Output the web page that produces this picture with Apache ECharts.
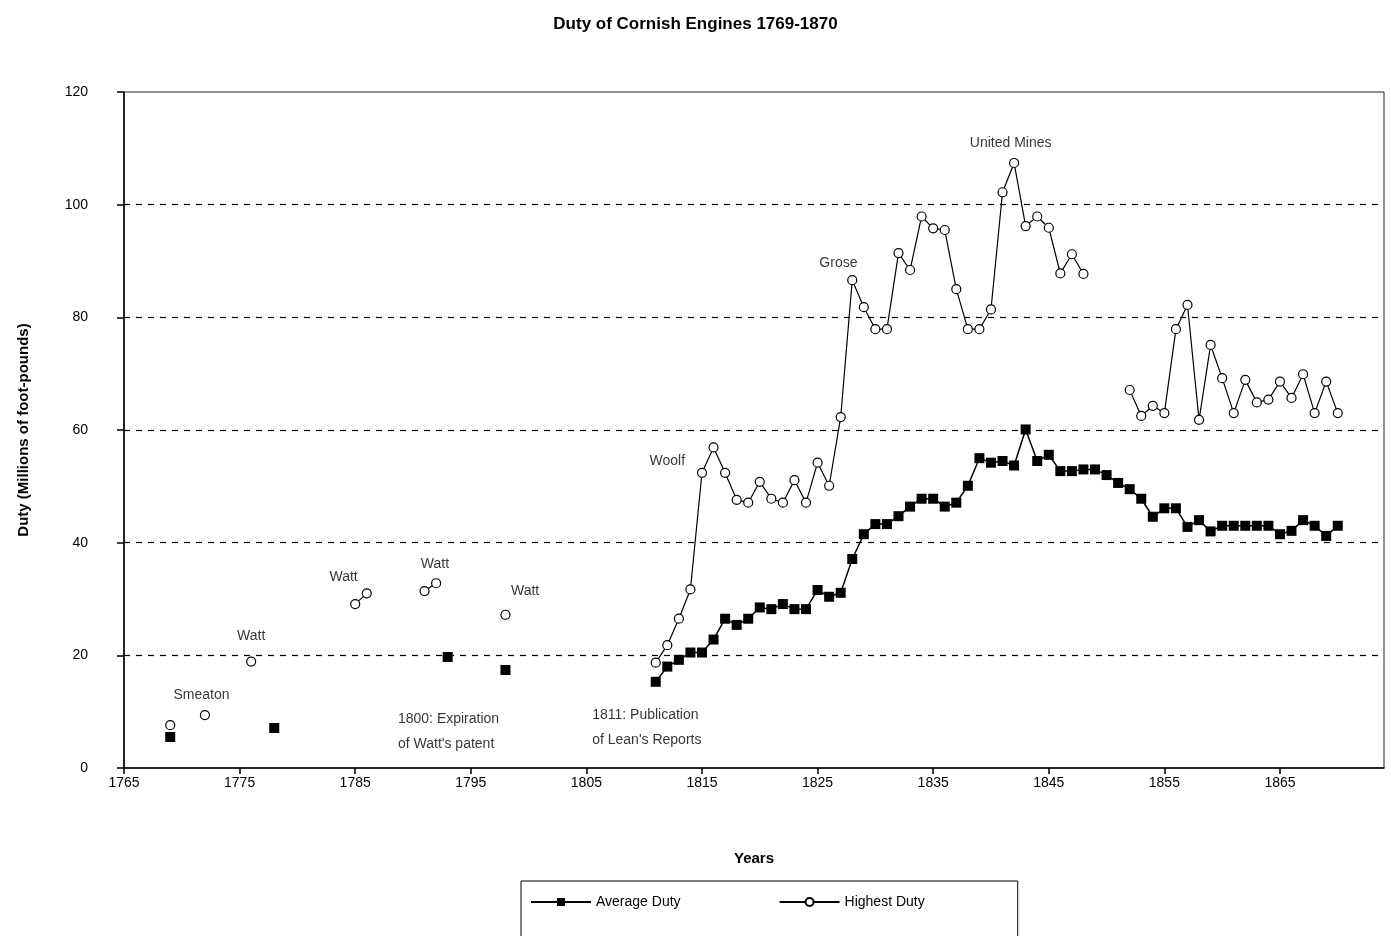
<!DOCTYPE html>
<html>
<head>
<meta charset="utf-8">
<script src="https://cdn.jsdelivr.net/npm/echarts@6/dist/echarts.min.js"></script>
<style>
  html, body { margin: 0; padding: 0; background: #fff; }
  #chart { width: 1391px; height: 936px; }
</style>
</head>
<body>
<div id="chart"></div>
<script>
// ---- Data ----
const avgYears = [1769, 1778, 1793, 1798,
  1811, 1812, 1813, 1814, 1815, 1816, 1817, 1818, 1819, 1820,
  1821, 1822, 1823, 1824, 1825, 1826, 1827, 1828, 1829, 1830,
  1831, 1832, 1833, 1834, 1835, 1836, 1837, 1838, 1839, 1840,
  1841, 1842, 1843, 1844, 1845, 1846, 1847, 1848, 1849, 1850,
  1851, 1852, 1853, 1854, 1855, 1856, 1857, 1858, 1859, 1860,
  1861, 1862, 1863, 1864, 1865, 1866, 1867, 1868, 1869, 1870];
const avgValues = [5.5, 7.1, 19.7, 17.4,
  15.3, 18.0, 19.2, 20.5, 20.5, 22.8, 26.5, 25.4, 26.5, 28.5,
  28.2, 29.1, 28.2, 28.2, 31.6, 30.4, 31.1, 37.1, 41.5, 43.3,
  43.3, 44.7, 46.4, 47.8, 47.8, 46.4, 47.1, 50.1, 55.0, 54.2,
  54.5, 53.7, 60.1, 54.5, 55.6, 52.7, 52.7, 53.0, 53.0, 52.0,
  50.6, 49.5, 47.8, 44.6, 46.1, 46.1, 42.8, 44.0, 42.0, 43.0,
  43.0, 43.0, 43.0, 43.0, 41.5, 42.1, 44.0, 43.0, 41.2, 43.0];

const highYears = [1769, 1772, 1776, 1785, 1786, 1791, 1792, 1798,
  1811, 1812, 1813, 1814, 1815, 1816, 1817, 1818, 1819, 1820,
  1821, 1822, 1823, 1824, 1825, 1826, 1827, 1828, 1829, 1830,
  1831, 1832, 1833, 1834, 1835, 1836, 1837, 1838, 1839, 1840,
  1841, 1842, 1843, 1844, 1845, 1846, 1847, 1848,
  1852, 1853, 1854, 1855, 1856, 1857, 1858, 1859, 1860,
  1861, 1862, 1863, 1864, 1865, 1866, 1867, 1868, 1869, 1870];
const highValues = [7.6, 9.4, 18.9, 29.1, 31.0, 31.4, 32.8, 27.2,
  18.7, 21.8, 26.5, 31.7, 52.4, 56.9, 52.4, 47.6, 47.1, 50.8,
  47.8, 47.1, 51.1, 47.1, 54.2, 50.1, 62.3, 86.6, 81.8, 77.9,
  77.9, 91.4, 88.4, 97.9, 95.8, 95.5, 85.0, 77.9, 77.9, 81.4,
  102.2, 107.4, 96.2, 97.9, 95.9, 87.8, 91.2, 87.7,
  67.1, 62.5, 64.3, 63.0, 77.9, 82.2, 61.8, 75.1, 69.2,
  63.0, 68.9, 64.9, 65.4, 68.6, 65.7, 69.9, 63.0, 68.6, 63.0];

const yTicks = [0, 20, 40, 60, 80, 100, 120];
const xTickStart = 1765;

// Text annotations: [year, duty, text, align]
const annotations = [
  [1771.7, 13.0, 'Smeaton', 'center'],
  [1776.0, 23.4, 'Watt', 'center'],
  [1784.0, 33.9, 'Watt', 'center'],
  [1791.9, 36.2, 'Watt', 'center'],
  [1799.7, 31.4, 'Watt', 'center'],
  [1788.7, 6.4, "1800: Expiration\nof Watt's patent", 'left'],
  [1805.5, 7.1, "1811: Publication\nof Lean's Reports", 'left'],
  [1812.0, 54.5, 'Woolf', 'center'],
  [1826.8, 89.6, 'Grose', 'center'],
  [1841.7, 111.0, 'United Mines', 'center']
];

// Build line data: points connect only in consecutive years
function buildSeries(years, values) {
  const out = [];
  for (let i = 0; i < years.length; i++) {
    if (i > 0 && years[i] - years[i - 1] > 1) out.push(['-', '-']);
    out.push([years[i], values[i]]);
  }
  return out;
}

const FONT = '"Liberation Sans", Arial, sans-serif';
const chart = echarts.init(document.getElementById('chart'), null, { renderer: 'canvas' });

chart.setOption({
  animation: false,
  backgroundColor: '#ffffff',
  title: {
    text: 'Duty of Cornish Engines 1769-1870',
    left: 'center',
    top: 11,
    textStyle: { fontFamily: FONT, fontSize: 17, fontWeight: 'bold', color: '#000' }
  },
  grid: {
    left: 124, right: 7, top: 92, bottom: 168,
    show: true, borderColor: '#222', borderWidth: 1, backgroundColor: 'transparent'
  },
  legend: {
    left: 521, top: 881,
    padding: [14, 93, 30, 9],
    itemGap: 98,
    itemWidth: 60, itemHeight: 10,
    borderColor: '#000', borderWidth: 1,
    textStyle: { fontFamily: FONT, fontSize: 14, color: '#000' },
    data: ['Average Duty', 'Highest Duty']
  },
  xAxis: {
    type: 'value',
    min: xTickStart, max: 1874, interval: 10,
    name: 'Years', nameLocation: 'middle', nameGap: 83,
    nameTextStyle: { fontFamily: FONT, fontSize: 15, fontWeight: 'bold', color: '#000' },
    axisLine: { show: true, onZero: false, lineStyle: { color: '#000', width: 1.5 } },
    axisTick: { show: true, length: 6, lineStyle: { color: '#000', width: 1.5 } },
    axisLabel: {
      fontFamily: FONT, fontSize: 14, color: '#000', margin: 8,
      showMaxLabel: false,
      formatter: v => String(v)
    },
    splitLine: { show: false }
  },
  yAxis: {
    type: 'value',
    min: yTicks[0], max: yTicks[yTicks.length - 1], interval: 20,
    name: 'Duty (Millions of foot-pounds)', nameLocation: 'middle', nameGap: 93,
    nameRotate: 90,
    nameTextStyle: { fontFamily: FONT, fontSize: 15, fontWeight: 'bold', color: '#000' },
    axisLine: { show: true, lineStyle: { color: '#000', width: 1.5 } },
    axisTick: { show: true, length: 7, lineStyle: { color: '#000', width: 1.5 } },
    axisLabel: { fontFamily: FONT, fontSize: 14, color: '#000', margin: 36 },
    splitLine: {
      show: true, showMinLine: false, showMaxLine: false,
      lineStyle: { color: '#000', type: [6, 6], width: 1.2 }
    }
  },
  series: [
    {
      name: 'Average Duty',
      type: 'line',
      data: buildSeries(avgYears, avgValues),
      connectNulls: false,
      showSymbol: true, showAllSymbol: true,
      symbol: 'rect', symbolSize: 10,
      itemStyle: { color: '#000' },
      lineStyle: { color: '#000', width: 1.5 },
      emphasis: { disabled: true },
      z: 3
    },
    {
      name: 'Highest Duty',
      type: 'line',
      data: buildSeries(highYears, highValues),
      connectNulls: false,
      showSymbol: true, showAllSymbol: true,
      symbol: 'circle', symbolSize: 9,
      itemStyle: { color: '#fff', borderColor: '#000', borderWidth: 1.2 },
      lineStyle: { color: '#000', width: 1.2 },
      emphasis: { disabled: true },
      z: 2
    },
    {
      name: 'annotations',
      type: 'scatter',
      symbolSize: 0,
      silent: true,
      data: annotations.map(a => ({
        value: [a[0], a[1]],
        name: a[2],
        label: { align: a[3] }
      })),
      label: {
        show: true,
        position: 'inside',
        formatter: p => p.name,
        fontFamily: FONT, fontSize: 14, color: '#000', lineHeight: 25
      },
      z: 4
    }
  ]
});
</script>
</body>
</html>
